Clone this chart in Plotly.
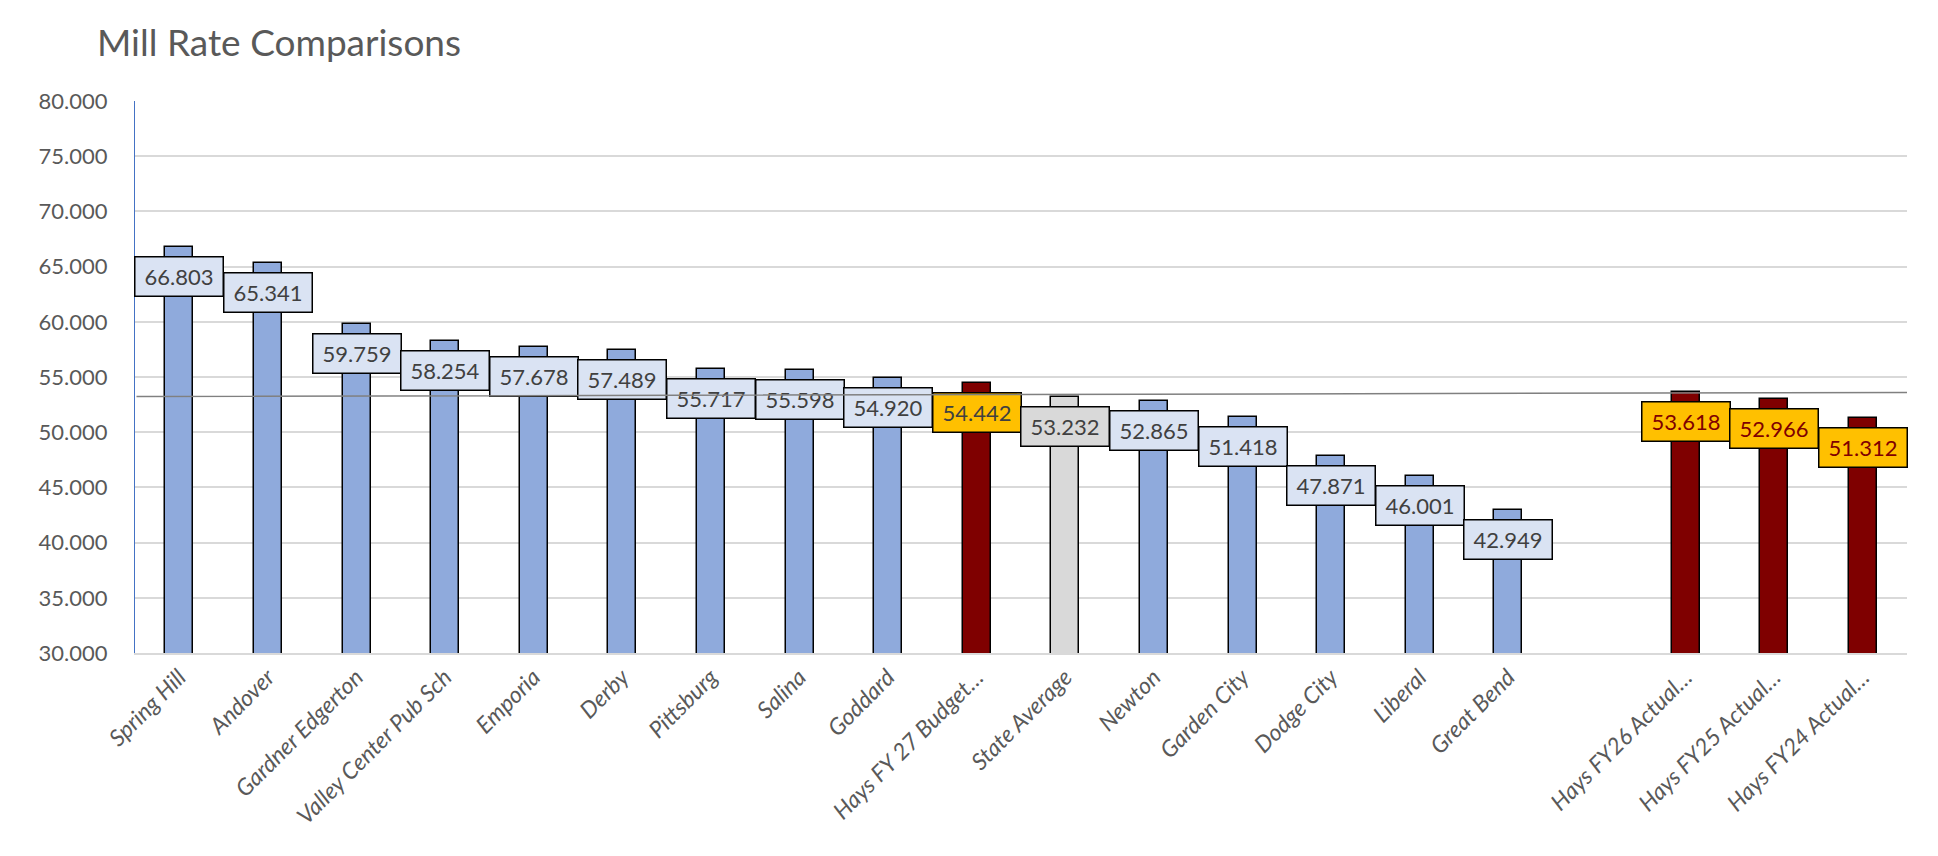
import plotly.graph_objects as go

categories = ["Spring Hill", "Andover", "Gardner Edgerton", "Valley Center Pub Sch", "Emporia",
              "Derby", "Pittsburg", "Salina", "Goddard", "Hays FY 27 Budget…", "State Average",
              "Newton", "Garden City", "Dodge City", "Liberal", "Great Bend", " ",
              "Hays FY26 Actual…", "Hays FY25 Actual…", "Hays FY24 Actual…"]
values = [66.803, 65.341, 59.759, 58.254, 57.678, 57.489, 55.717, 55.598, 54.920, 54.442,
          53.232, 52.865, 51.418, 47.871, 46.001, 42.949, None, 53.618, 52.966, 51.312]
# group: c = comparison, h = Hays budget, s = state average, a = Hays actuals, n = empty
groups = ["c"] * 9 + ["h", "s"] + ["c"] * 5 + ["n", "a", "a", "a"]
ref_line = [53.232, 53.6]   # grey reference line, left end / right end
y_ticks = [30, 35, 40, 45, 50, 55, 60, 65, 70, 75, 80]

bar_color = {"c": "#8FAADC", "h": "#7F0000", "s": "#D9D9D9", "a": "#7F0000", "n": "#FFFFFF"}
label_fill = {"c": "#DAE3F3", "h": "#FFC000", "s": "#D9D9D9", "a": "#FFC000", "n": "#FFFFFF"}
label_text = {"c": "#404040", "h": "#404040", "s": "#404040", "a": "#7F0000", "n": "#404040"}

FONT = "Lato"

fig = go.Figure()
fig.add_trace(go.Bar(
    x=categories, y=values, width=0.316,
    marker=dict(color=[bar_color[g] for g in groups], line=dict(color="#000000", width=1.5)),
    hoverinfo="x+y", showlegend=False,
))

annotations = []
for cat, v, g in zip(categories, values, groups):
    if v is None:
        continue
    annotations.append(dict(
        x=cat, y=v, xref="x", yref="y", yanchor="top", yshift=-9,
        text=f"{v:.3f}", showarrow=False,
        font=dict(family=FONT, size=22, color=label_text[g]),
        bgcolor=label_fill[g], bordercolor="#000000", borderwidth=1.5, borderpad=0,
        width=87, height=38, align="center", valign="middle",
    ))

# grey reference line drawn on top of the labels
annotations.append(dict(
    x=len(categories) - 0.5, y=ref_line[1], xref="x", yref="y",
    ax=-0.5, ay=ref_line[0], axref="x", ayref="y",
    text="", showarrow=True, arrowhead=0, arrowwidth=1.5, arrowcolor="#808080",
    standoff=0, startstandoff=0,
))

fig.update_layout(
    width=1938, height=856,
    paper_bgcolor="white", plot_bgcolor="white",
    margin=dict(l=135, r=31, t=101, b=203),
    title=dict(text="Mill Rate Comparisons", x=97 / 1938, xanchor="left", y=1 - 43 / 856,
               yanchor="middle", font=dict(family=FONT, size=37, color="#595959")),
    annotations=annotations,
    bargap=0,
)
fig.update_xaxes(
    type="category", range=[-0.5, len(categories) - 0.5],
    tickangle=-45, tickfont=dict(family=FONT, size=23, color="#595959", style="italic"),
    showline=True, linecolor="#D9D9D9", linewidth=1.5, ticks="", showgrid=False,
)
fig.update_yaxes(
    range=[30, 80], tickvals=y_ticks, tickformat=".3f",
    tickfont=dict(family=FONT, size=22, color="#595959"),
    showgrid=True, gridcolor="#D9D9D9", gridwidth=1.5,
    showline=True, linecolor="#4472C4", linewidth=1, zeroline=False,
    ticks="", ticklabelstandoff=22,
)

fig.write_html("out.html")
